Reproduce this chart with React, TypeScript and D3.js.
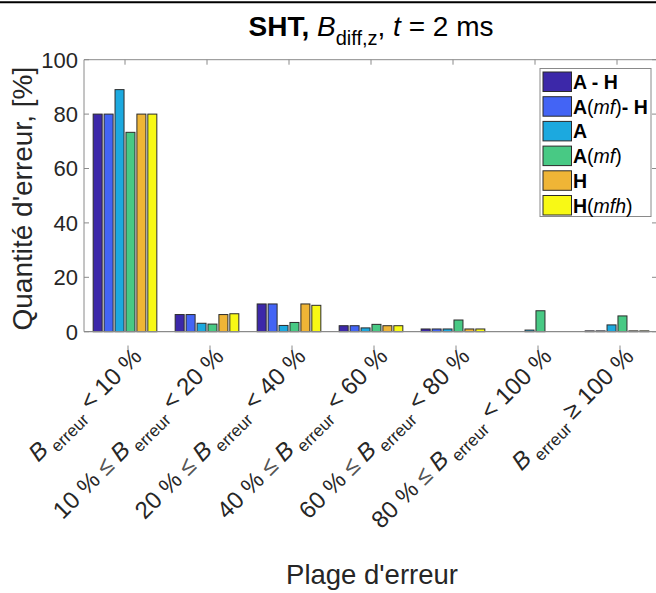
import React from "react";
import * as d3 from "d3";

const categories = ["c1", "c2", "c3", "c4", "c5", "c6", "c7"];
const lowerLabels = ["", "10 %", "20 %", "40 %", "60 %", "80 %", ""];
const upperLabels = ["< 10 %", "< 20 %", "< 40 %", "< 60 %", "< 80 %", "< 100 %", "≥ 100 %"];

const seriesNames = ["A - H", "A(mf)- H", "A", "A(mf)", "H", "H(mfh)"];
const seriesColors = ["#3c28a9", "#4364f5", "#1ca9df", "#48c984", "#efb536", "#f8f915"];

const valAH = [80, 6.3, 10.2, 2.2, 1.0, 0, 0.3];
const valAmfH = [80, 6.3, 10.2, 2.2, 1.0, 0, 0.3];
const valA = [89, 3.1, 2.3, 1.4, 1.0, 0.6, 2.5];
const valAmf = [73.3, 2.8, 3.4, 2.7, 4.3, 7.7, 5.8];
const valH = [80, 6.3, 10.2, 2.2, 1.0, 0, 0.3];
const valHmfh = [80, 6.6, 9.7, 2.2, 1.0, 0, 0.3];
const seriesValues = [valAH, valAmfH, valA, valAmf, valH, valHmfh];

const yTicks = [0, 20, 40, 60, 80, 100];

const FONT = "'Liberation Sans', Arial, Helvetica, sans-serif";

export default function App() {
  const W = 656;
  const H = 593;
  const left = 84;
  const right = 658;
  const top = 59.7;
  const bottom = 331.7;

  const x = d3.scaleBand<string>().domain(categories).range([left, right]).paddingInner(0.2).paddingOuter(0.1);
  const xi = d3.scaleBand<number>().domain(d3.range(seriesNames.length)).range([0, x.bandwidth()]).paddingInner(0.177).paddingOuter(0.0885);
  const y = d3.scaleLinear().domain([0, 100]).range([bottom, top]);

  const axisColor = "#8a8a8a";
  const textColor = "#262626";

  const legendX = 540;
  const legendY = 68.5;
  const legendW = 111;
  const rowH = 24.7;

  const legendLabel = (i: number) => {
    switch (i) {
      case 0:
        return <tspan fontWeight="bold">A - H</tspan>;
      case 1:
        return (
          <>
            <tspan fontWeight="bold">A</tspan>
            <tspan>(</tspan>
            <tspan fontStyle="italic">mf</tspan>
            <tspan>)</tspan>
            <tspan fontWeight="bold">- H</tspan>
          </>
        );
      case 2:
        return <tspan fontWeight="bold">A</tspan>;
      case 3:
        return (
          <>
            <tspan fontWeight="bold">A</tspan>
            <tspan>(</tspan>
            <tspan fontStyle="italic">mf</tspan>
            <tspan>)</tspan>
          </>
        );
      case 4:
        return <tspan fontWeight="bold">H</tspan>;
      default:
        return (
          <>
            <tspan fontWeight="bold">H</tspan>
            <tspan>(</tspan>
            <tspan fontStyle="italic">mfh</tspan>
            <tspan>)</tspan>
          </>
        );
    }
  };

  return (
    <svg width={W} height={H} style={{ position: "absolute", left: 0, top: 0, background: "#fff" }} fontFamily={FONT}>
      <rect x={0} y={0} width={W} height={H} fill="#fff" />
      {/* top border line */}
      <line x1={0} x2={W} y1={2.3} y2={2.3} stroke="#000" strokeWidth={2} />

      {/* title */}
      <text x={371} y={36} textAnchor="middle" fontSize={28} fill="#000">
        <tspan fontWeight="bold">SHT,</tspan>
        <tspan> </tspan>
        <tspan fontStyle="italic">B</tspan>
        <tspan fontSize={20} dy={9}>diff,z</tspan>
        <tspan dy={-9}>, </tspan>
        <tspan fontStyle="italic">t</tspan>
        <tspan> = 2 ms</tspan>
      </text>

      {/* bars */}
      {categories.map((c, ci) => (
        <g key={c}>
          {seriesValues.map((vals, si) => {
            const v = vals[ci];
            if (v <= 0) return null;
            return (
              <rect
                key={si}
                x={(x(c) as number) + (xi(si) as number)}
                y={y(v)}
                width={xi.bandwidth()}
                height={bottom - y(v)}
                fill={seriesColors[si]}
                stroke="#2b2b2b"
                strokeWidth={1}
              />
            );
          })}
        </g>
      ))}

      {/* axes box */}
      <line x1={left} x2={right} y1={top} y2={top} stroke={axisColor} strokeWidth={1} />
      <line x1={left} x2={right} y1={bottom} y2={bottom} stroke={axisColor} strokeWidth={1.2} />
      <line x1={left} x2={left} y1={top} y2={bottom} stroke={axisColor} strokeWidth={1} />
      <line x1={right} x2={right} y1={top} y2={bottom} stroke={axisColor} strokeWidth={1} />

      {/* y ticks */}
      {yTicks.map((t) => (
        <g key={t}>
          <line x1={left} x2={left + 5} y1={y(t)} y2={y(t)} stroke={axisColor} />
          <line x1={right - 6} x2={right} y1={y(t)} y2={y(t)} stroke={axisColor} />
          <text x={left - 6} y={y(t)} dy="0.36em" textAnchor="end" fontSize={22} fill={textColor}>
            {t}
          </text>
        </g>
      ))}

      {/* x ticks */}
      {categories.map((c) => {
        const cx = (x(c) as number) + x.bandwidth() / 2;
        return (
          <g key={c}>
            <line x1={cx} x2={cx} y1={top} y2={top + 5} stroke={axisColor} />
            <line x1={cx + 3} x2={cx + 3} y1={345.5} y2={349.5} stroke={axisColor} />
          </g>
        );
      })}

      {/* x tick labels */}
      {categories.map((c, ci) => {
        const cx = (x(c) as number) + x.bandwidth() / 2;
        const ax = cx + 18;
        const ay = 358;
        return (
          <text
            key={c}
            x={ax}
            y={ay}
            textAnchor="end"
            fontSize={24}
            fill={textColor}
            transform={`rotate(-45 ${ax} ${ay})`}
          >
            {lowerLabels[ci] ? <tspan>{lowerLabels[ci] + " "}</tspan> : null}
            {lowerLabels[ci] ? <tspan fill="#555">{"≤ "}</tspan> : null}
            <tspan fontStyle="italic">B</tspan>
            <tspan fontSize={17} dy={7}>{" erreur"}</tspan>
            <tspan dy={-7}>{"  " + upperLabels[ci]}</tspan>
          </text>
        );
      })}

      {/* axis labels */}
      <text
        x={0}
        y={0}
        transform={`translate(32 ${(top + bottom) / 2 + 3}) rotate(-90)`}
        textAnchor="middle"
        fontSize={28}
        fill={textColor}
      >
        Quantité d'erreur, [%]
      </text>
      <text x={372} y={584} textAnchor="middle" fontSize={27.5} fill={textColor}>
        Plage d'erreur
      </text>

      {/* legend */}
      <rect x={legendX} y={legendY} width={legendW} height={148} fill="#fff" stroke="#8a8a8a" strokeWidth={1} />
      {seriesNames.map((n, i) => {
        const ry = legendY + 3.5 + i * rowH;
        return (
          <g key={n}>
            <rect x={legendX + 3} y={ry} width={28.5} height={19.5} fill={seriesColors[i]} stroke="#2b2b2b" strokeWidth={1} />
            <text x={legendX + 33} y={ry + 10} dy="0.36em" fontSize={19.5} fill="#000">
              {legendLabel(i)}
            </text>
          </g>
        );
      })}
    </svg>
  );
}
